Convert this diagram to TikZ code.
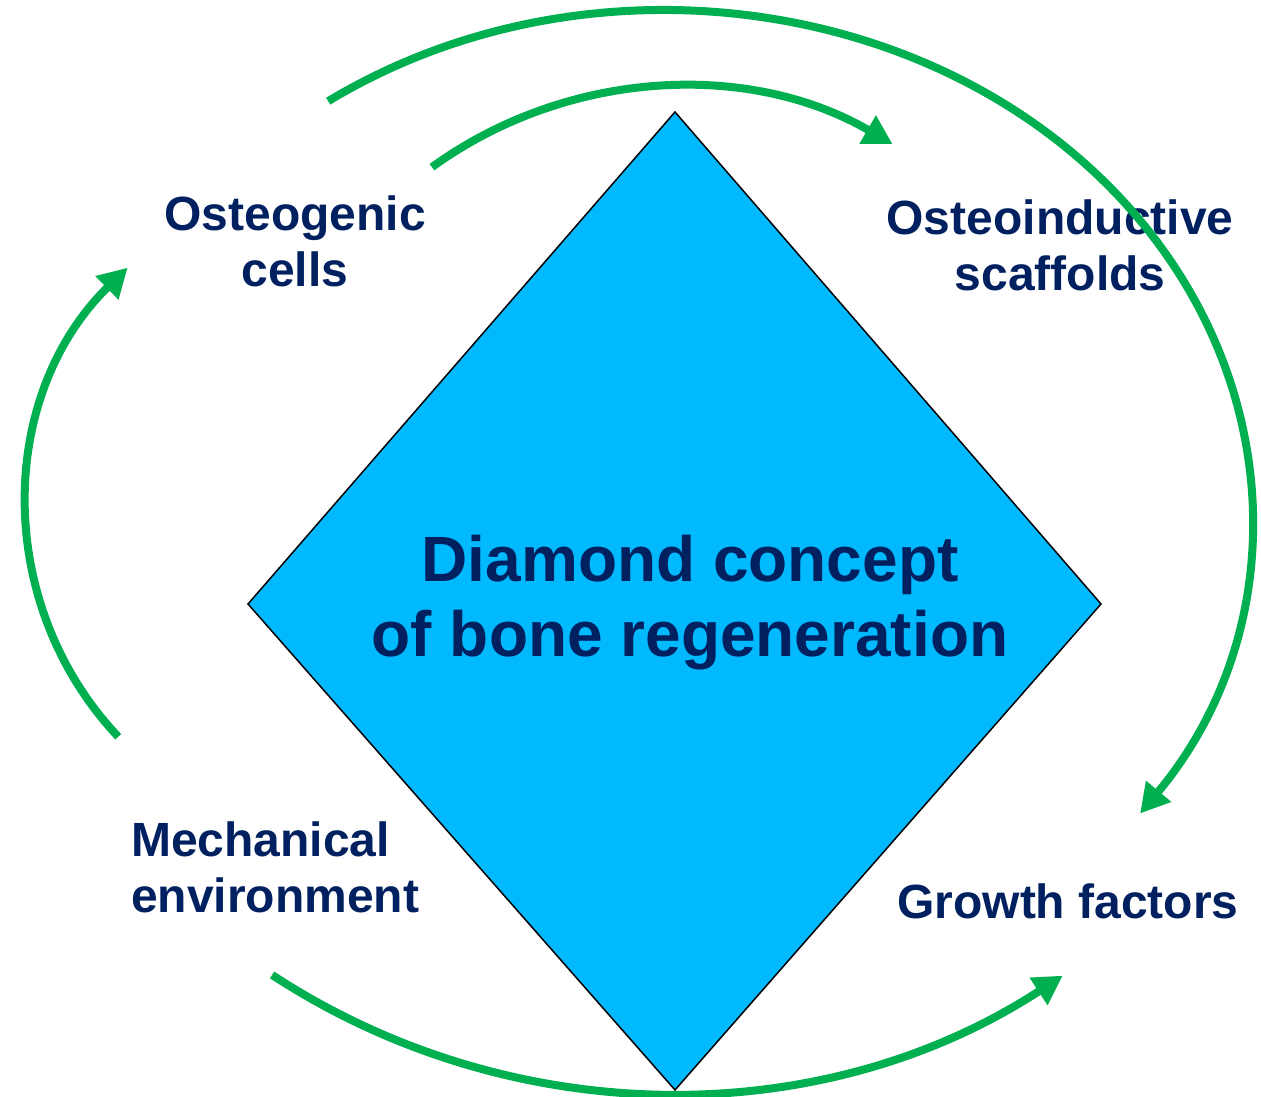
\documentclass[tikz,border=0pt]{standalone}
\usepackage{fontspec}
\setmainfont{Liberation Sans}
\usetikzlibrary{arrows.meta,calc}
\definecolor{arcgreen}{HTML}{00B050}
\definecolor{diamondblue}{HTML}{00B9FF}
\definecolor{navytext}{HTML}{002060}
\begin{document}
\begin{tikzpicture}[x=1pt,y=1pt,
  lbl/.style={text=navytext, font=\bfseries\fontsize{48}{56}\selectfont, inner sep=0pt, align=center},
  ttl/.style={text=navytext, font=\bfseries\fontsize{64}{75}\selectfont, inner sep=0pt, align=center},
  cyclearrow/.style={draw=arcgreen, line width=8pt, -{Triangle[length=29pt,width=31pt]}}]
\useasboundingbox (0,0) rectangle (1261,1097);
% diamond
\coordinate (dtop) at (675,985);
\coordinate (dleft) at (248,493);
\coordinate (dright) at (1101,493);
\coordinate (dbottom) at (675,7);
\draw[fill=diamondblue, draw=black, line width=1.5pt, line join=miter] (dtop) -- (dright) -- (dbottom) -- (dleft) -- cycle;
% texts (base anchor = baseline of the last line)
\node[ttl, anchor=base] (title) at (690,440) {Diamond concept\\of bone regeneration};
\node[lbl, anchor=base] (cells) at (295,810) {Osteogenic\\cells};
\node[lbl, anchor=base] (scaff) at (1060,806) {Osteoinductive\\scaffolds};
\node[lbl, anchor=base west, align=left] (mech) at (131,184) {Mechanical\\environment};
\node[lbl, anchor=base] (growth) at (1068,178) {Growth factors};
% arcs
\coordinate (bigc) at (664,580);
\coordinate (innc) at (680,597);
\coordinate (leftc) at (362,590);
\coordinate (botc) at (668,727);
\coordinate (bigs) at ($(bigc)+(124.9:587 and 507)$);
\coordinate (inns) at ($(innc)+(126.3:419 and 413)$);
\coordinate (lefts) at ($(leftc)+(223.3:335)$);
\coordinate (bots) at ($(botc)+(-123.2:723)$);
\draw[cyclearrow] (bigs) arc[start angle=124.9, end angle=-35.8, x radius=587, y radius=507];
\draw[cyclearrow] (inns) arc[start angle=126.3, end angle=59.5, x radius=419, y radius=413];
\draw[cyclearrow] (lefts) arc[start angle=223.3, end angle=134.4, radius=335];
\draw[cyclearrow] (bots) arc[start angle=-123.2, end angle=-56.9, radius=723];
\end{tikzpicture}
\end{document}
